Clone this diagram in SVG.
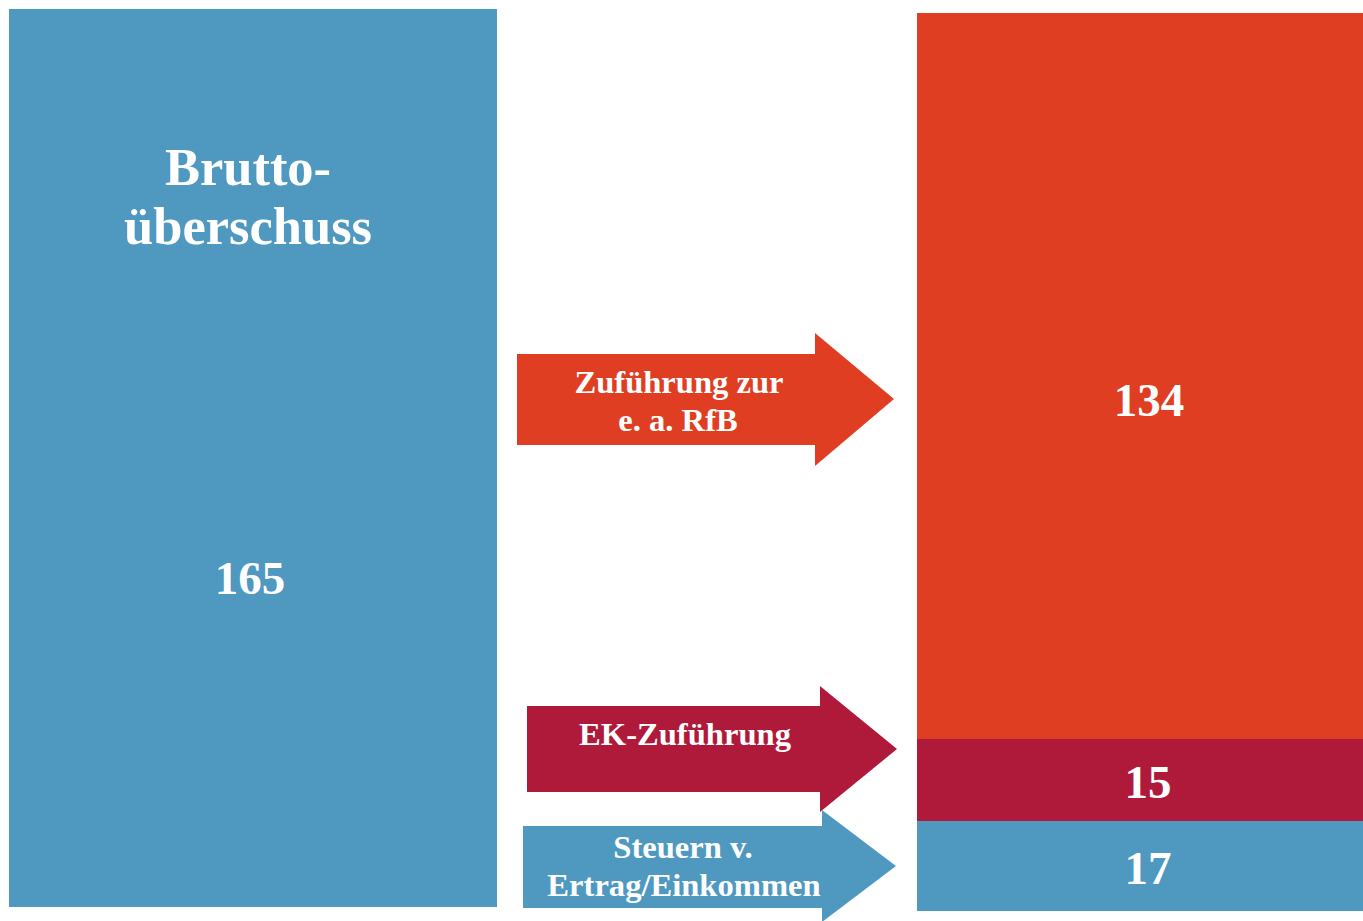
<svg xmlns="http://www.w3.org/2000/svg" width="1363" height="921" viewBox="0 0 1363 921">
<style>
.t{font-family:"Liberation Serif","Times New Roman",serif;font-weight:bold;fill:#fff;text-anchor:middle}
.big{font-size:52.5px}
.num{font-size:47px}
.lab{font-size:32.6px}
.blue{fill:#4F98C0}
.red{fill:#E03E22}
.crim{fill:#B01A3A}
</style>
<rect width="1363" height="921" fill="#fff"/>
<g id="left-bar">
<rect class="blue" x="9" y="9" width="488" height="898"/>
<text class="t big" x="248" y="185">Brutto-</text>
<text class="t big" x="248" y="244">überschuss</text>
<text class="t num" x="250" y="594">165</text>
</g>
<g id="right-bar">
<g id="seg-rfb">
<rect class="red" x="917" y="13" width="446" height="726"/>
<text class="t num" x="1149" y="416">134</text>
</g>
<g id="seg-ek">
<rect class="crim" x="917" y="739" width="446" height="82"/>
<text class="t num" x="1148" y="798">15</text>
</g>
<g id="seg-steuern">
<rect class="blue" x="917" y="821" width="446" height="90"/>
<text class="t num" x="1148" y="884">17</text>
</g>
</g>
<g id="connectors">
<g id="arrow-rfb">
<polygon class="red" points="517,354 815,354 815,333 894,399 815,466 815,445 517,445"/>
<text class="t lab" x="679" y="393">Zuführung zur</text>
<text class="t lab" x="678" y="431">e. a. RfB</text>
</g>
<g id="arrow-ek">
<polygon class="crim" points="527,706 820,706 820,686 897,749 820,812 820,792 527,792"/>
<text class="t lab" x="685" y="745">EK-Zuführung</text>
</g>
<g id="arrow-steuern">
<polygon class="blue" points="523,826 822,826 822,810 896,866 822,922 822,908 523,908"/>
<text class="t lab" x="683" y="858">Steuern v.</text>
<text class="t lab" x="684" y="896">Ertrag/Einkommen</text>
</g>
</g>
</svg>
